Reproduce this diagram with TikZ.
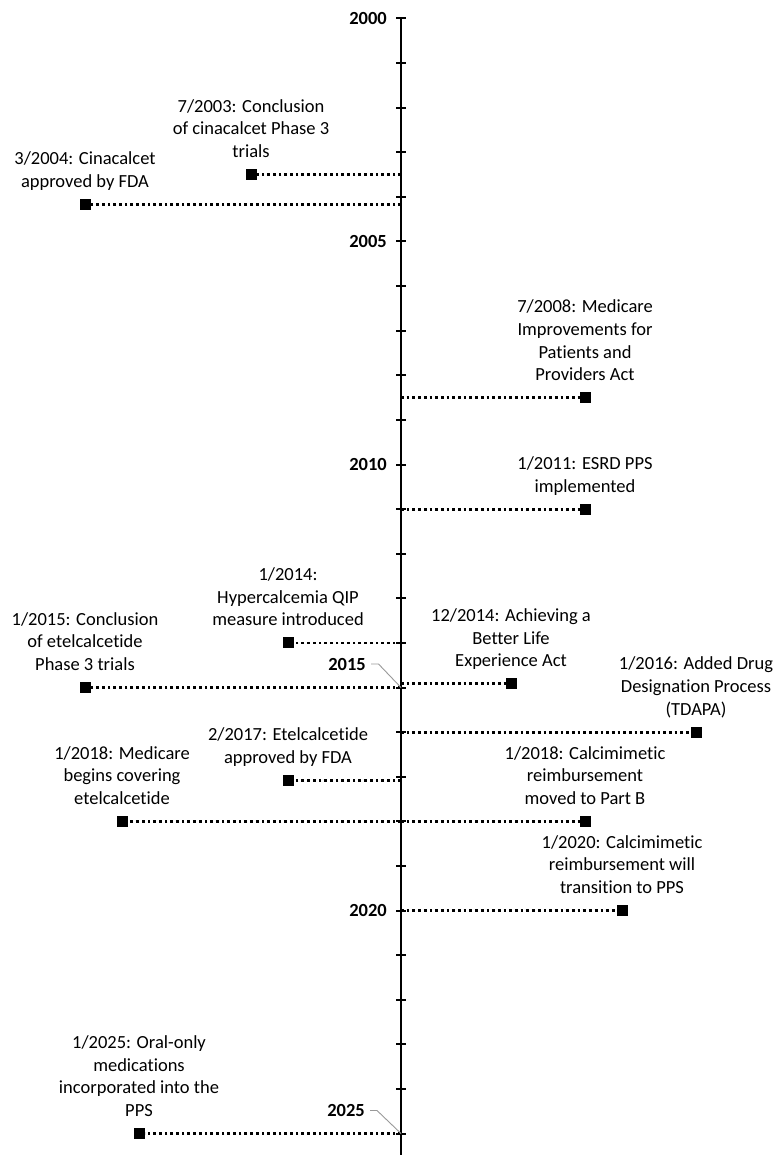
\documentclass[tikz,border=0pt]{standalone}
\usepackage{fontspec}
\setmainfont{Carlito}[Ligatures=NoCommon]
\newcommand{\evfont}{\fontsize{18.5}{22.6}\selectfont}
\newcommand{\yearfont}{\fontsize{18.5}{22.6}\selectfont\bfseries}
\newcommand{\lab}[1]{\begin{tabular}[b]{@{}c@{}}#1\end{tabular}}
\begin{document}
\begin{tikzpicture}[x=1pt,y=-1pt,
  axisline/.style={line width=2.8pt},
  tickmark/.style={line width=2pt},
  dotline/.style={line width=2.8pt, dash pattern=on 2.7pt off 3pt},
  evmarker/.style={fill=black, minimum size=11pt, inner sep=0pt, outer sep=0pt},
  evlabel/.style={anchor=base, inner sep=0pt, font=\evfont},
  yearlab/.style={anchor=east, inner sep=0pt, font=\yearfont},
  leader/.style={draw=black!40, line width=0.9pt}
]
\useasboundingbox (0,0) rectangle (778,1155);

% axis coordinates for events
\coordinate (aA) at (401,174.6);
\coordinate (aB) at (401,204.3);
\coordinate (aC) at (401,397.6);
\coordinate (aD) at (401,509.1);
\coordinate (aE) at (401,642.9);
\coordinate (aF) at (401,687.5);
\coordinate (aG) at (401,683.8);
\coordinate (aH) at (401,732.1);
\coordinate (aI) at (401,780.4);
\coordinate (aJ) at (401,821.3);
\coordinate (aK) at (401,821.3);
\coordinate (aL) at (401,910.5);
\coordinate (aM) at (401,1133.5);

% markers
\node[evmarker] (mA) at (251,174.6) {};
\node[evmarker] (mB) at (85,204.3) {};
\node[evmarker] (mC) at (585,397.6) {};
\node[evmarker] (mD) at (585,509.1) {};
\node[evmarker] (mE) at (288,642.9) {};
\node[evmarker] (mF) at (85,687.5) {};
\node[evmarker] (mG) at (511,683.8) {};
\node[evmarker] (mH) at (696,732.1) {};
\node[evmarker] (mI) at (288,780.4) {};
\node[evmarker] (mJ) at (122,821.3) {};
\node[evmarker] (mK) at (585,821.3) {};
\node[evmarker] (mL) at (622,910.5) {};
\node[evmarker] (mM) at (139,1133.5) {};

% dotted connectors
\foreach \e in {A,B,C,D,E,F,G,H,I,J,K,L,M}
  \draw[dotline] (a\e) -- (m\e);

% labels
\node[evlabel] (tA) at ([yshift=17pt]mA.center) {\lab{7/2003: Conclusion\\of cinacalcet Phase 3\\trials}};
\node[evlabel] (tB) at ([yshift=17pt]mB.center) {\lab{3/2004: Cinacalcet\\approved by FDA}};
\node[evlabel] (tC) at ([yshift=17pt]mC.center) {\lab{7/2008: Medicare\\Improvements for\\Patients and\\Providers Act}};
\node[evlabel] (tD) at ([yshift=17pt]mD.center) {\lab{1/2011: ESRD PPS\\implemented}};
\node[evlabel] (tE) at ([yshift=17pt]mE.center) {\lab{1/2014:\\Hypercalcemia QIP\\measure introduced}};
\node[evlabel] (tF) at ([yshift=17pt]mF.center) {\lab{1/2015: Conclusion\\of etelcalcetide\\Phase 3 trials}};
\node[evlabel] (tG) at ([yshift=17pt]mG.center) {\lab{12/2014: Achieving a\\Better Life\\Experience Act}};
\node[evlabel] (tH) at ([yshift=17pt]mH.center) {\lab{1/2016: Added Drug\\Designation Process\\(TDAPA)}};
\node[evlabel] (tI) at ([yshift=17pt]mI.center) {\lab{2/2017: Etelcalcetide\\approved by FDA}};
\node[evlabel] (tJ) at ([yshift=17pt]mJ.center) {\lab{1/2018: Medicare\\begins covering\\etelcalcetide}};
\node[evlabel] (tK) at ([yshift=17pt]mK.center) {\lab{1/2018: Calcimimetic\\reimbursement\\moved to Part B}};
\node[evlabel] (tL) at ([yshift=17pt]mL.center) {\lab{1/2020: Calcimimetic\\reimbursement will\\transition to PPS}};
\node[evlabel] (tM) at ([yshift=17pt]mM.center) {\lab{1/2025: Oral-only\\medications\\incorporated into the\\PPS}};

% axis and ticks
\draw[axisline] (401,18.5) -- (401,1155);
\foreach \k in {0,...,25}
  \draw[tickmark] (396,{18.5+44.6*\k}) -- (406,{18.5+44.6*\k});

% year labels
\node[yearlab] (y00) at (387,18.5) {2000};
\node[yearlab] (y05) at (387,241.5) {2005};
\node[yearlab] (y10) at (387,464.5) {2010};
\node[yearlab] (y20) at (387,910.5) {2020};
\node[yearlab] (y15) at (366,664) {2015};
\node[yearlab] (y25) at (365,1110.5) {2025};
\coordinate (ax15) at (401,687.5);
\coordinate (ax25) at (401,1133.5);
\draw[leader] ([xshift=5pt]y15.east) -- ++(7.5,0) -- (ax15);
\draw[leader] ([xshift=5pt]y25.east) -- ++(7,0) -- (ax25);
\end{tikzpicture}
\end{document}
